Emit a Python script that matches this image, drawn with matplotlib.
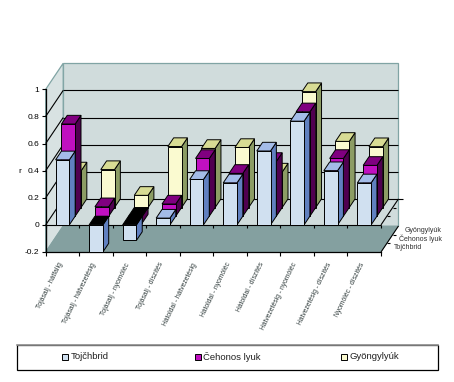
import matplotlib
matplotlib.use("Agg")
import matplotlib.pyplot as plt
from matplotlib.patches import Rectangle

plt.rcParams['font.family'] = ['Liberation Sans', 'DejaVu Sans']

categories = ["Tojásalj - hátfalig", "Tojásalj - hátvezetésig", "Tojásalj - nyomóléc",
              "Tojásalj - díszítés", "Hátoldal - hátvezetésig", "Hátoldal - nyomóléc",
              "Hátoldal - díszítés", "Hátvezetésig - nyomóléc", "Hátvezetésig - díszítés",
              "Nyomóléc - díszítés"]
series_names = ["Tojčhbrid", "Čehonos lyuk", "Gyöngylyúk"]
tojchbrid = [0.48, -0.20, -0.115, 0.05, 0.335, 0.31, 0.545, 0.765, 0.40, 0.31]
cehonos = [0.68, 0.07, -0.05, 0.09, 0.426, 0.316, 0.404, 0.77, 0.426, 0.375]
gyongy = [0.27, 0.28, 0.09, 0.45, 0.436, 0.443, 0.262, 0.855, 0.488, 0.449]
yticks = [-0.2, 0, 0.2, 0.4, 0.6, 0.8, 1]

W, H = 454, 382
DX = 5.83 / 33.53   # shift per depth slot, in categories
DY = 8.7 / 136.0    # shift per depth slot, in value units
BAR_W = 0.41

# front, side, top
face_colors = [("#d0e0f0", "#6080c0", "#a4bce8"),
               ("#c010c0", "#500050", "#800080"),
               ("#fafad0", "#8c9c64", "#d8dc94")]


def proj(x, y, d):
    return x + d * DX, y + d * DY


def poly(ax, pts, color, z, edge="black", lw=0.7):
    ax.fill([p[0] for p in pts], [p[1] for p in pts], facecolor=color,
            edgecolor=edge, linewidth=lw, zorder=z, clip_on=False)


def line(ax, a, b, color="black", lw=0.8, z=2):
    ax.plot([a[0], b[0]], [a[1], b[1]], color=color, lw=lw, zorder=z,
            clip_on=False, solid_capstyle="butt")


def bar3d(ax, i, val, d, colors, z):
    x0, x1 = i + 0.5 - BAR_W / 2, i + 0.5 + BAR_W / 2
    front, side, top = colors
    poly(ax, [proj(x1, 0, d), proj(x1, val, d), proj(x1, val, d + 1), proj(x1, 0, d + 1)], side, z)
    poly(ax, [proj(x0, 0, d), proj(x1, 0, d), proj(x1, val, d), proj(x0, val, d)], front, z)
    top_y = max(val, 0)
    if val < 0:
        top = "black"
    poly(ax, [proj(x0, top_y, d), proj(x1, top_y, d), proj(x1, top_y, d + 1), proj(x0, top_y, d + 1)], top, z)


fig = plt.figure(figsize=(W / 100, H / 100), dpi=100)
ax = fig.add_axes([45.7 / W, 1 - 252 / H, (381 - 45.7) / W, (252 - 89.3) / H])
ax.set_xlim(0, 10)
ax.set_ylim(-0.2, 1)
ax.patch.set_visible(False)

# walls and floor
wall = "#d0dcdc"
edge = "#80a4a4"
poly(ax, [proj(0, -0.2, 3), proj(10, -0.2, 3), proj(10, 1, 3), proj(0, 1, 3)], wall, 1, edge, 0.9)
poly(ax, [proj(0, -0.2, 0), proj(0, -0.2, 3), proj(0, 1, 3), proj(0, 1, 0)], "#d8e2e2", 1, edge, 0.9)
poly(ax, [proj(0, -0.2, 0), proj(10, -0.2, 0), proj(10, -0.2, 3), proj(0, -0.2, 3)], "#84a0a0", 1.1, "#84a0a0", 0.5)

# gridlines: left wall diagonal then along the back wall
for v in yticks[1:-1]:
    line(ax, proj(0, v, 0), proj(0, v, 3))
    line(ax, proj(0, v, 3), proj(10, v, 3))
line(ax, proj(0, 0, 0), proj(10, 0, 0))
line(ax, proj(10, 0, 0), proj(10, 0, 3))
line(ax, proj(10, 0, 3), proj(10.12, 0, 3))
line(ax, proj(10, -0.2, 0), proj(10, -0.2, 3))
line(ax, proj(0, -0.2, 0), proj(0, 0, 0))
for d in [1, 2]:
    for v in [0, -0.2]:
        a = proj(10, v, d)
        line(ax, a, (a[0] + 0.1, a[1]))
for i in range(11):
    line(ax, (i, 0), (i, -0.025), lw=0.8, z=1.5)

# bars, back row first
for d, vals in reversed(list(enumerate([tojchbrid, cehonos, gyongy]))):
    for i, v in enumerate(vals):
        bar3d(ax, i, v, d, face_colors[d], 3 + (2 - d) + i * 0.01)

ax.set_yticks(yticks)
ax.set_yticklabels(["-0.2", "0", "0.2", "0.4", "0.6", "0.8", "1"], fontsize=6)
ax.set_xticks(range(11))
ax.set_xticklabels([])
ax.tick_params(axis="both", length=3, width=0.8, pad=1.5)
for s in ["top", "right"]:
    ax.spines[s].set_visible(False)
ax.spines["left"].set_linewidth(0.9)
ax.spines["bottom"].set_linewidth(0.9)

# rotated category labels
for i, name in enumerate(categories):
    ax.annotate(name, (i + 0.5, -0.2), xytext=(-1, -8), textcoords="offset points",
                rotation=64, rotation_mode="anchor", ha="right", va="center",
                fontsize=4.9, color="#303c3c", annotation_clip=False)

# depth axis labels
for d, name, px in zip([0, 1, 2], series_names, [394, 399, 405]):
    fig.text(px / W, 1 - (247 - d * 8.5) / H, name, fontsize=5, va="center", color="#303030")

fig.text(20 / W, 1 - 171 / H, "r", fontsize=6, ha="center", va="center")

# legend box
fig.add_artist(Rectangle((17 / W, 1 - 370 / H), 421 / W, 25 / H, transform=fig.transFigure,
                         facecolor="white", edgecolor="black", linewidth=0.9))
fig.add_artist(plt.Line2D([17 / W, 438 / W], [1 - 345 / H] * 2, color="#909090", lw=1.2))
for name, colors, px in zip(series_names, face_colors, [62.5, 195, 341]):
    fig.add_artist(Rectangle((px / W, 1 - 359.5 / H), 5.5 / W, 5.5 / H, transform=fig.transFigure,
                             facecolor=colors[0], edgecolor="black", linewidth=0.7))
    fig.text((px + 8) / W, 1 - 356.8 / H, name, fontsize=6.8, va="center", color="#202020")

fig.savefig("out.png", dpi=100)
